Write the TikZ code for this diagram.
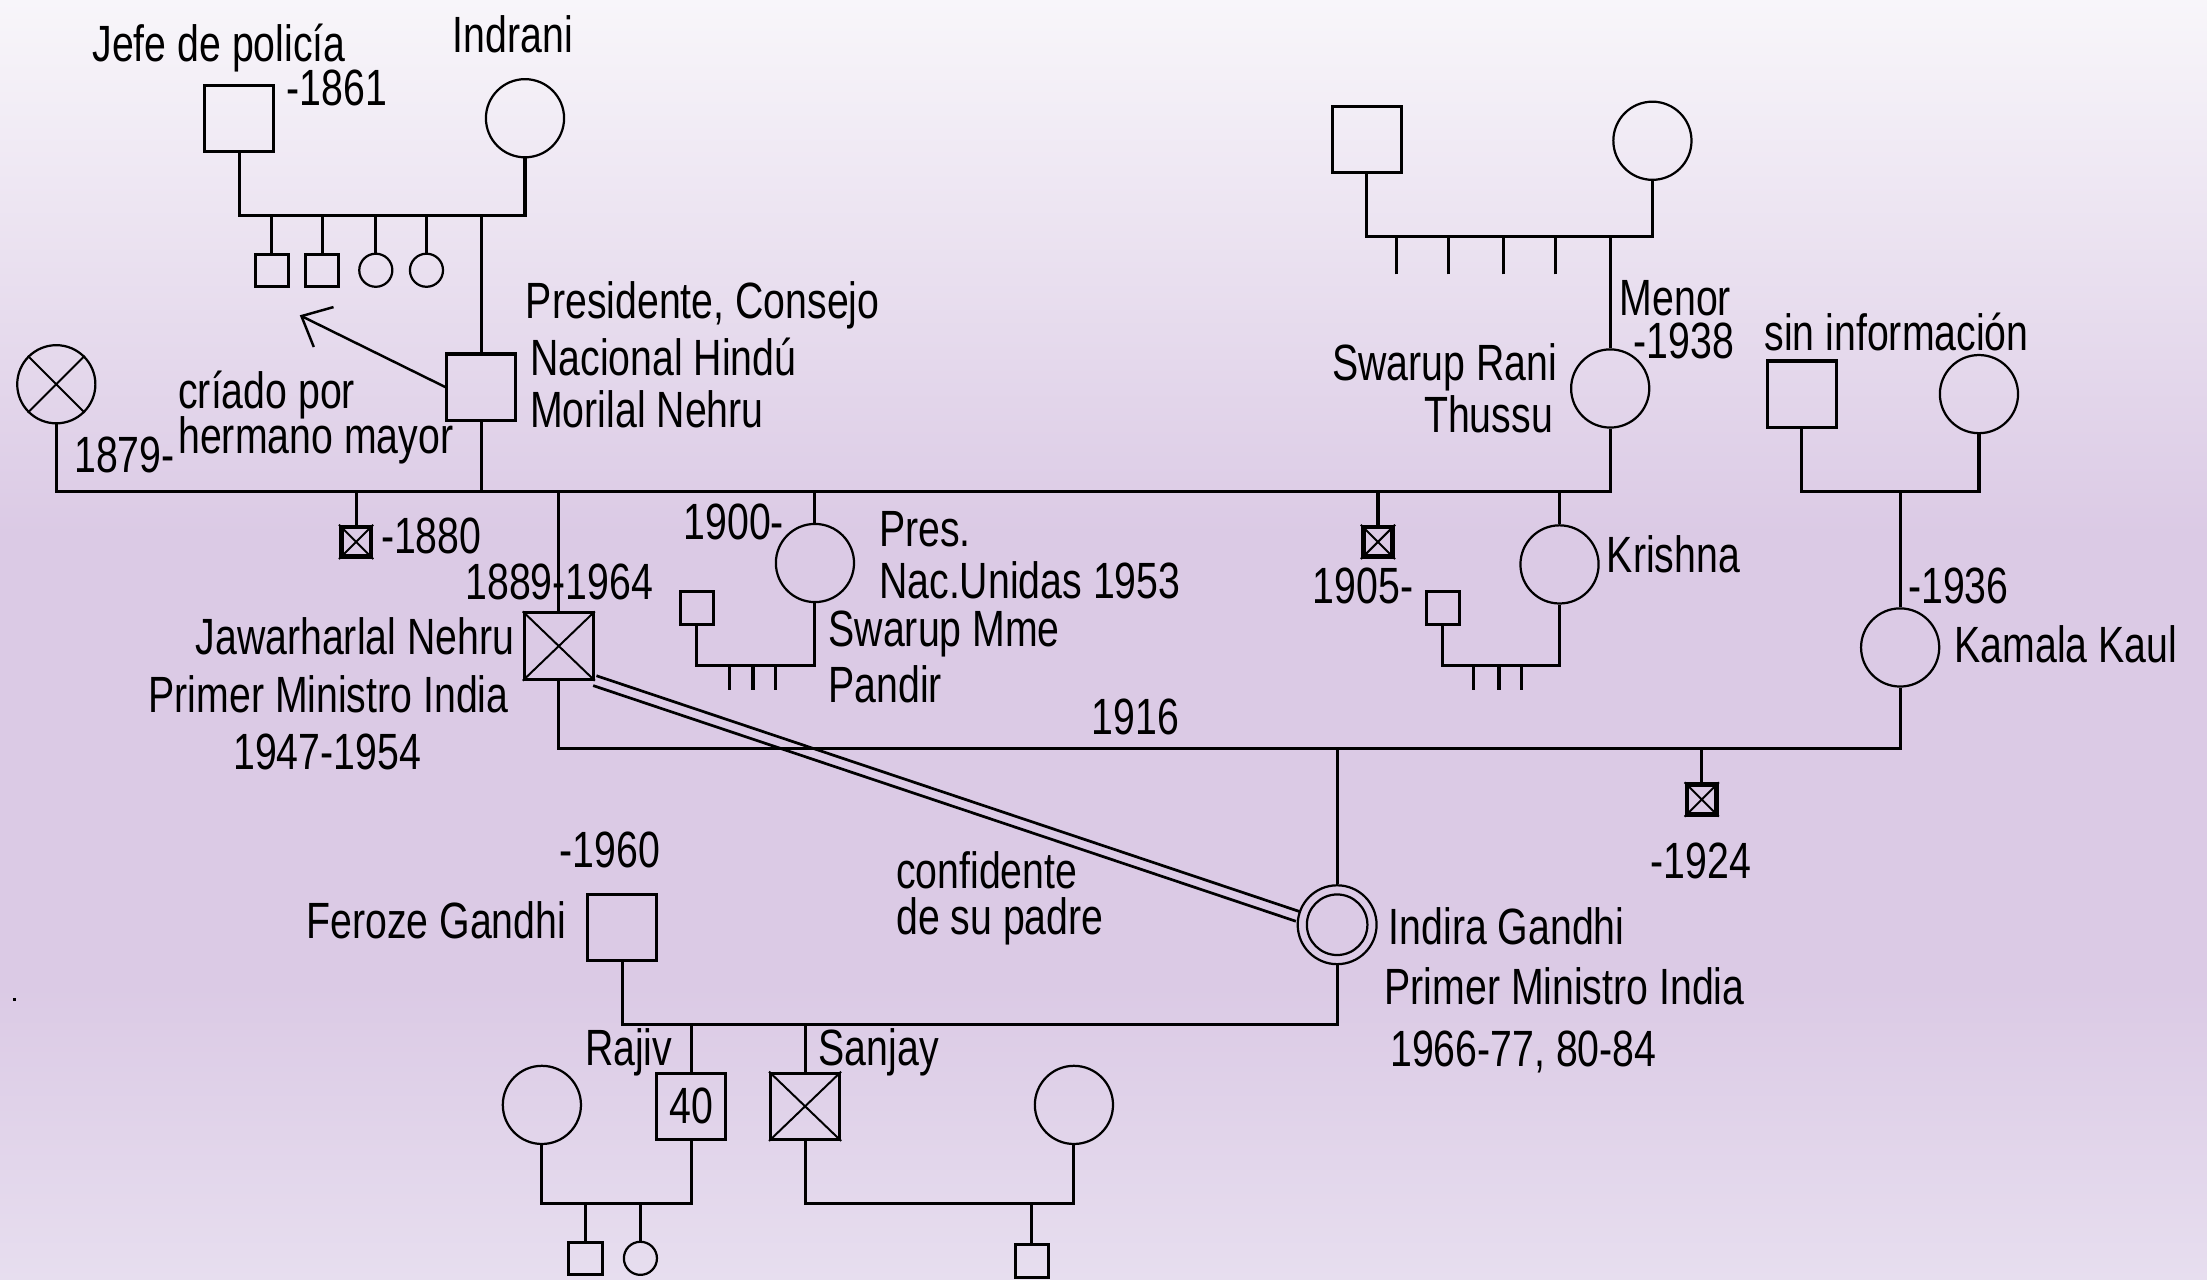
\documentclass[tikz,border=0pt]{standalone}
\usepackage{fontspec}
\newfontfamily\lblfont{Liberation Sans}[FakeStretch=0.77]
\usetikzlibrary{arrows.meta,calc}
\definecolor{bgtop}{RGB}{248,246,250}
\definecolor{bgmid}{RGB}{219,202,229}
\definecolor{bgbot}{RGB}{231,222,239}
\begin{document}
\begin{tikzpicture}[x=0.01cm,y=-0.01cm,
  conn/.style={line width=0.62pt},
  male/.style={draw, rectangle, line width=0.62pt, minimum width=0.49cm, minimum height=0.47cm, inner sep=0pt},
  female/.style={draw, circle, line width=0.45pt, minimum size=0.555cm, inner sep=0pt},
  smale/.style={draw, rectangle, line width=0.6pt, minimum width=0.235cm, minimum height=0.23cm, inner sep=0pt},
  sfemale/.style={draw, circle, line width=0.45pt, minimum size=0.235cm, inner sep=0pt},
  dead/.style={draw, rectangle, line width=0.95pt, minimum size=0.21cm, inner sep=0pt},
  xline/.style={line width=0.4pt},
  lbl/.style={inner sep=0pt, font=\lblfont\fontsize{10.3}{12}\selectfont},
  confline/.style={line width=0.55pt},
]
\shade[top color=bgtop, bottom color=bgmid] (0,0) rectangle (1568,380);
\fill[bgmid] (0,379) rectangle (1568,701);
\shade[top color=bgmid, bottom color=bgbot] (0,700) rectangle (1568,909);
\useasboundingbox (0,0) rectangle (1568,909);

% ---------- union levels ----------
\coordinate (u1) at (0,153);
\coordinate (u2) at (0,349);
\coordinate (u3) at (0,168);
\coordinate (u4) at (0,473);
\coordinate (u5) at (0,532);
\coordinate (u6) at (0,728);
\coordinate (u7) at (0,855);

% ---------- people ----------
\node[male] (jefe) at (170,84) {};
\node[female] (indrani) at (373,84) {};
\node[smale] (sib1) at (193,192) {};
\node[smale] (sib2) at (229,192) {};
\node[sfemale] (sib3) at (267,192) {};
\node[sfemale] (sib4) at (303,192) {};
\node[male] (morilal) at (342,275) {};
\node[female] (xc) at (40,273) {};
\draw[xline] (xc.north west) -- (xc.south east) (xc.north east) -- (xc.south west);

\node[male] (srfa) at (971,99) {};
\node[female] (srmo) at (1174,100) {};
\node[female] (sr) at (1144,276) {};
\node[male] (kfa) at (1280,280) {};
\node[female] (kmo) at (1406,280) {};

\node[dead] (c1880) at (253,385) {};
\draw[xline] (c1880.north west) -- (c1880.south east) (c1880.north east) -- (c1880.south west);
\node[male] (jn) at (397,459) {};
\draw[xline] (jn.north west) -- (jn.south east) (jn.north east) -- (jn.south west);
\node[female] (swm) at (579,400) {};
\node[smale] (swmh) at (495,432) {};
\node[dead] (c1905) at (979,385) {};
\draw[xline] (c1905.north west) -- (c1905.south east) (c1905.north east) -- (c1905.south west);
\node[female] (krishna) at (1108,401) {};
\node[smale] (krh) at (1025,432) {};
\node[female] (kamala) at (1350,460) {};
\node[dead] (c1924) at (1209,568) {};
\draw[xline] (c1924.north west) -- (c1924.south east) (c1924.north east) -- (c1924.south west);

\node[female, minimum size=0.56cm] (indira) at (950,657) {};
\draw[line width=0.45pt] (indira.center) circle[radius=0.215cm];
\node[male] (feroze) at (442,659) {};
\node[male, lbl, line width=0.62pt] (rajiv) at (491,786) {40};
\node[male] (sanjay) at (572,786) {};
\draw[xline] (sanjay.north west) -- (sanjay.south east) (sanjay.north east) -- (sanjay.south west);
\node[female] (rw) at (385,785) {};
\node[female] (sw) at (763,785) {};
\node[smale] (rc1) at (416,894) {};
\node[sfemale] (rc2) at (455,894) {};
\node[smale] (sc1) at (733,896) {};

% ---------- connectors ----------
\draw[conn] (jefe.south) -- (jefe.south |- u1) -- (indrani.south |- u1) -- (indrani.south);
\foreach \n in {sib1,sib2,sib3,sib4,morilal} {\draw[conn] (\n.north) -- (\n.north |- u1);}

\draw[conn] (xc.south) -- (xc.south |- u2) -- (sr.south |- u2) -- (sr.south);
\draw[conn] (morilal.south) -- (morilal.south |- u2);
\foreach \n in {c1880,jn,swm,c1905,krishna} {\draw[conn] (\n.north) -- (\n.north |- u2);}

\draw[conn] (srfa.south) -- (srfa.south |- u3) -- (srmo.south |- u3) -- (srmo.south);
\draw[conn] (sr.north) -- (sr.north |- u3);
\foreach \x [count=\i] in {992,1029,1068,1105} {\coordinate (srt\i) at (\x,195); \draw[conn] (srt\i) -- (srt\i |- u3);}

\draw[conn] (kfa.south) -- (kfa.south |- u2) -- (kmo.south |- u2) -- (kmo.south);
\draw[conn] (kamala.north) -- (kamala.north |- u2);

\draw[conn] (swmh.south) -- (swmh.south |- u4) -- (swm.south |- u4) -- (swm.south);
\foreach \x [count=\i] in {518,535,551} {\coordinate (swt\i) at (\x,490); \draw[conn] (swt\i) -- (swt\i |- u4);}
\draw[conn] (krh.south) -- (krh.south |- u4) -- (krishna.south |- u4) -- (krishna.south);
\foreach \x [count=\i] in {1047,1065,1081} {\coordinate (krt\i) at (\x,490); \draw[conn] (krt\i) -- (krt\i |- u4);}

\draw[conn] (jn.south) -- (jn.south |- u5) -- (kamala.south |- u5) -- (kamala.south);
\draw[conn] (indira.north) -- (indira.north |- u5);
\draw[conn] (c1924.north) -- (c1924.north |- u5);

\draw[conn] (feroze.south) -- (feroze.south |- u6) -- (indira.south |- u6) -- (indira.south);
\draw[conn] (rajiv.north) -- (rajiv.north |- u6);
\draw[conn] (sanjay.north) -- (sanjay.north |- u6);

\draw[conn] (rw.south) -- (rw.south |- u7) -- (rajiv.south |- u7) -- (rajiv.south);
\draw[conn] (rc1.north) -- (rc1.north |- u7);
\draw[conn] (rc2.north) -- (rc2.north |- u7);
\draw[conn] (sanjay.south) -- (sanjay.south |- u7) -- (sw.south |- u7) -- (sw.south);
\draw[conn] (sc1.north) -- (sc1.north |- u7);

% raised by elder brother arrow
\coordinate (arrtip) at (213,224);
\draw[line width=0.5pt, -{Straight Barb[length=5pt, width=9pt, line width=0.5pt]}] (morilal.west) -- (arrtip);

% confidant double line
\draw[confline] ($(jn.south east)!1.05pt!90:(indira.168)$) -- ($(indira.168)!1.05pt!-90:(jn.south east)$);
\draw[confline] ($(jn.south east)!1.05pt!-90:(indira.168)$) -- ($(indira.168)!1.05pt!90:(jn.south east)$);

% stray dot
\fill (9,709) rectangle (11.5,711.5);

% ---------- labels ----------
\node[lbl, anchor=base west] (t1) at (65,44) {Jefe de policía};
\node[lbl, anchor=base west] (t2) at (321,37) {Indrani};
\node[lbl, anchor=base west] (t3) at (203,75) {-1861};
\node[lbl, anchor=base west] (t4) at (373,226) {Presidente, Consejo};
\node[lbl, anchor=base west] (t5) at (376,267) {Nacional Hindú};
\node[lbl, anchor=base west] (t6) at (376,304) {Morilal Nehru};
\node[lbl, anchor=base west] (t7) at (126,290) {críado por};
\node[lbl, anchor=base west] (t8) at (126,322) {hermano mayor};
\node[lbl, anchor=base west] (t9) at (52,336) {1879-};
\node[lbl, anchor=base west] (t10) at (270,393) {-1880};
\node[lbl, anchor=base west] (t11) at (330,426) {1889-1964};
\node[lbl, anchor=base east] (t12) at (366,465) {Jawarharlal Nehru};
\node[lbl, anchor=base east] (t13) at (362,506) {Primer Ministro India};
\node[lbl, anchor=base west] (t14) at (165,547) {1947-1954};
\node[lbl, anchor=base west] (t15) at (485,383) {1900-};
\node[lbl, anchor=base west] (t16) at (624,388) {Pres.};
\node[lbl, anchor=base west] (t17) at (624,425) {Nac.Unidas 1953};
\node[lbl, anchor=base west] (t18) at (588,459) {Swarup Mme};
\node[lbl, anchor=base west] (t19) at (588,499) {Pandir};
\node[lbl, anchor=base west] (t20) at (775,522) {1916};
\node[lbl, anchor=base west] (t21) at (1150,224) {Menor};
\node[lbl, anchor=base west] (t22) at (1160,255) {-1938};
\node[lbl, anchor=base east] (t23) at (1107,270) {Swarup Rani};
\node[lbl, anchor=base east] (t24) at (1104,307) {Thussu};
\node[lbl, anchor=base west] (t25) at (1253,249) {sin información};
\node[lbl, anchor=base west] (t26) at (1141,407) {Krishna};
\node[lbl, anchor=base west] (t27) at (932,429) {1905-};
\node[lbl, anchor=base west] (t28) at (1355,429) {-1936};
\node[lbl, anchor=base west] (t29) at (1388,471) {Kamala Kaul};
\node[lbl, anchor=base west] (t30) at (1172,624) {-1924};
\node[lbl, anchor=base west] (t31) at (397,616) {-1960};
\node[lbl, anchor=base east] (t32) at (403,667) {Feroze Gandhi};
\node[lbl, anchor=base west] (t33) at (636,631) {confidente};
\node[lbl, anchor=base west] (t34) at (636,664) {de su padre};
\node[lbl, anchor=base west] (t35) at (986,671) {Indira Gandhi};
\node[lbl, anchor=base west] (t36) at (983,714) {Primer Ministro India};
\node[lbl, anchor=base west] (t37) at (987,758) {1966-77, 80-84};
\node[lbl, anchor=base west] (t38) at (415,757) {Rajiv};
\node[lbl, anchor=base west] (t39) at (581,757) {Sanjay};
\end{tikzpicture}
\end{document}
